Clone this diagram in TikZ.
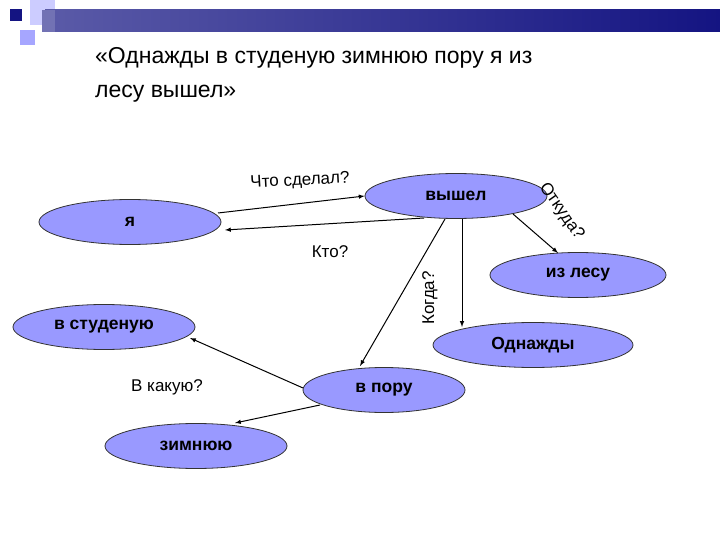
\documentclass[tikz,border=0pt]{standalone}
\usepackage{fontspec}
\setmainfont{Liberation Sans}
\usetikzlibrary{shapes.geometric}
\definecolor{nodefill}{RGB}{153,153,255}
\definecolor{darkbar}{RGB}{20,20,130}
\begin{document}
\begin{tikzpicture}[x=1pt,y=-1pt,
  ell/.style={ellipse,draw=black!80,line width=0.8pt,fill=nodefill,minimum width=182pt,minimum height=45pt,inner sep=0pt,font=\fontsize{17.5}{19}\selectfont\bfseries},
  arr/.style={-latex,line width=1pt},
  lab/.style={font=\fontsize{17}{19}\selectfont}]
\useasboundingbox (0,0) rectangle (720,540);
% decoration
\fill[blue!20] (30,0) rectangle (55,25);
\fill[blue!35] (20,30) rectangle (35,45);
\shade[left color=darkbar!70!white,right color=darkbar] (45,10) rectangle (720,32);
\fill[darkbar!60!white] (42,10) rectangle (55,32);
\fill[darkbar] (10,9) rectangle (22,21);
% title
\node[anchor=north west,align=left,font=\fontsize{23}{34}\selectfont,inner sep=0pt] (title) at (95,47) {«Однажды в студеную зимнюю пору я из\\лесу вышел»};
% nodes
\node[ell] (ya) at (130,222) {я};
\node[ell] (vyshel) at (456,196) {вышел};
\node[ell,minimum width=176pt] (izlesu) at (578,275) {из лесу};
\node[ell,minimum width=200pt] (odn) at (533,345) {Однажды};
\node[ell,minimum width=162pt] (vporu) at (384,390) {в пору};
\node[ell] (vstud) at (104,327) {в студеную};
\node[ell] (zimn) at (196,446) {зимнюю};
% connector end points
\coordinate (a1) at (218,213);
\coordinate (b1) at (424,218);
\coordinate (b2) at (225,230);
\coordinate (c1) at (445,219);
\coordinate (c2) at (360,366);
\coordinate (d1) at (462,219);
\coordinate (d2) at (462,327);
\coordinate (e1) at (513,214);
\coordinate (e2) at (558,253);
\coordinate (f1) at (303,388);
\coordinate (f2) at (190,338);
\coordinate (g1) at (320,405);
\coordinate (g2) at (235,423);
% arrows
\draw[arr] (a1) -- (vyshel.west);
\draw[arr] (b1) -- (b2);
\draw[arr] (c1) -- (c2);
\draw[arr] (d1) -- (d2);
\draw[arr] (e1) -- (e2);
\draw[arr] (f1) -- (f2);
\draw[arr] (g1) -- (g2);
% labels
\node[lab,rotate=3] (l1) at (300,181) {Что сделал?};
\node[lab] (l2) at (330,252) {Кто?};
\node[lab,rotate=90] (l3) at (430,298) {Когда?};
\node[lab,rotate=-55,anchor=north west,inner sep=0pt] (l4) at (549,180) {Откуда?};
\node[lab] (l5) at (167,387) {В какую?};
\end{tikzpicture}
\end{document}
